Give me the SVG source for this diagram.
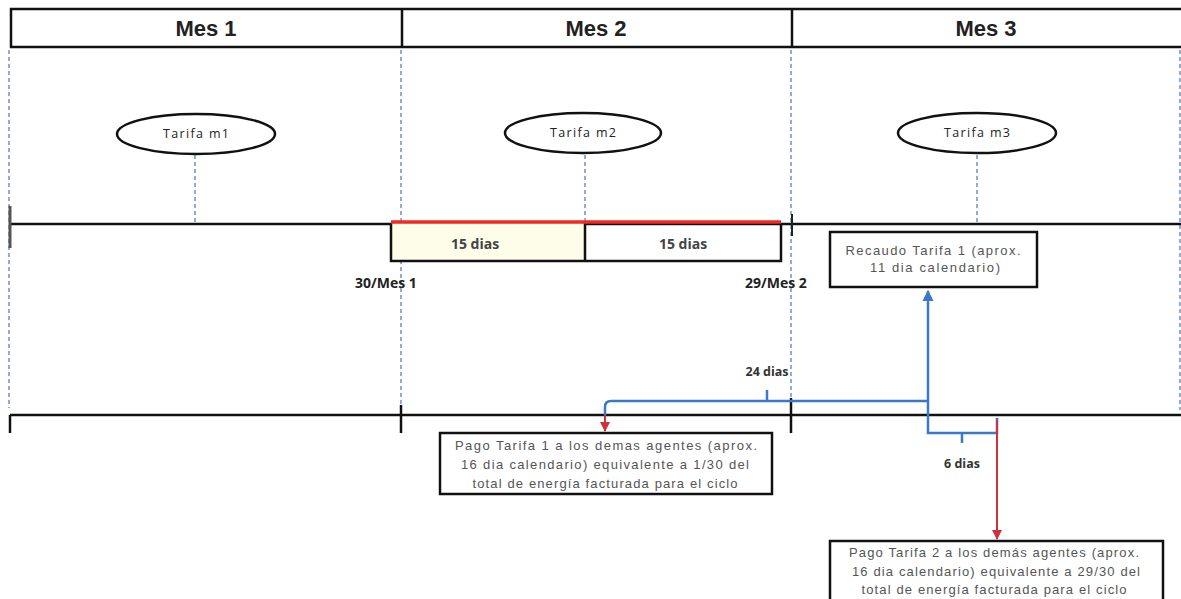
<svg xmlns="http://www.w3.org/2000/svg" width="1181" height="599" viewBox="0 0 1181 599">
<defs>
<style>
.hdr{font-family:"Liberation Sans",Arial,sans-serif;font-size:22px;font-weight:bold;fill:#222;text-anchor:middle}
.ell{font-family:"Open Sans","DejaVu Sans",sans-serif;font-size:12.5px;fill:#222;text-anchor:middle}
.dias{font-family:"Open Sans","DejaVu Sans",sans-serif;font-size:14px;font-weight:bold;fill:#444;text-anchor:middle}
.date{font-family:"Open Sans","DejaVu Sans",sans-serif;font-size:14px;font-weight:bold;fill:#222}
.box{font-family:"Liberation Sans",Arial,sans-serif;font-size:13px;fill:#555;text-anchor:middle}
.lbl{font-family:"Open Sans","DejaVu Sans",sans-serif;font-size:12.5px;font-weight:bold;fill:#333;text-anchor:middle}
.dash{stroke:#5a7fc8;stroke-width:1.3;stroke-dasharray:4 3;fill:none}
.blk{stroke:#111;stroke-width:2.5;fill:none}
.blue{stroke:#3b78c8;stroke-width:2.5;fill:none}
.red{stroke:#d0303a;stroke-width:2;fill:none}
</style>
<marker id="ar" viewBox="0 0 10 10" refX="9" refY="5" markerWidth="5" markerHeight="5" orient="auto"><path d="M0,0L10,5L0,10z" fill="#d0303a"/></marker>
<marker id="ab" viewBox="0 0 10 10" refX="9" refY="5" markerWidth="4.5" markerHeight="4.5" orient="auto"><path d="M0,0L10,5L0,10z" fill="#3b78c8"/></marker>
</defs>
<rect width="1181" height="599" fill="#fff"/>

<g id="guides">
<line class="dash" x1="9" y1="50" x2="9" y2="408"/>
<line class="dash" x1="401" y1="50" x2="401" y2="410"/>
<line class="dash" x1="791" y1="50" x2="791" y2="410"/>
<line class="dash" x1="1180" y1="50" x2="1180" y2="410"/>
<line class="dash" x1="195" y1="155" x2="195" y2="222"/>
<line class="dash" x1="585" y1="155" x2="585" y2="224"/>
<line class="dash" x1="977" y1="155" x2="977" y2="222"/>
</g>

<g id="header">
<path class="blk" d="M1181,9H11V47H1181M402,9V47M792,9V47"/>
<text class="hdr" x="206" y="36">Mes 1</text>
<text class="hdr" x="596" y="36">Mes 2</text>
<text class="hdr" x="986" y="36">Mes 3</text>
</g>

<g id="timeline-top">
<line class="blk" x1="10" y1="224" x2="1181" y2="224"/>
<line stroke="#555" stroke-width="3" x1="10" y1="206" x2="10" y2="248"/>
<line stroke="#222" stroke-width="2" x1="792" y1="214" x2="792" y2="236"/>
</g>

<g id="tarifa-m1">
<ellipse cx="196" cy="134" rx="79" ry="20" fill="#fff" stroke="#111" stroke-width="2.5"/>
<text class="ell" x="196" y="138" textLength="66" lengthAdjust="spacing">Tarifa  m1</text>
</g>
<g id="tarifa-m2">
<ellipse cx="583" cy="133" rx="78" ry="20" fill="#fff" stroke="#111" stroke-width="2.5"/>
<text class="ell" x="583" y="137" textLength="66" lengthAdjust="spacing">Tarifa  m2</text>
</g>
<g id="tarifa-m3">
<ellipse cx="977" cy="133" rx="79" ry="20" fill="#fff" stroke="#111" stroke-width="2.5"/>
<text class="ell" x="977" y="137" textLength="66" lengthAdjust="spacing">Tarifa  m3</text>
</g>

<g id="periodo">
<rect x="391" y="223" width="194" height="38" fill="#fdfde9"/>
<path class="blk" d="M391,223V261H781V223M585,223V261"/>
<line stroke="#ee2a24" stroke-width="3.5" x1="391" y1="222" x2="781" y2="222"/>
<text class="dias" x="475" y="249">15 dias</text>
<text class="dias" x="683" y="249">15 dias</text>
</g>

<g id="fechas">
<text class="date" x="355" y="288">30/Mes 1</text>
<text class="date" x="745" y="288">29/Mes 2</text>
</g>

<g id="timeline-bottom">
<line class="blk" x1="10" y1="415" x2="1181" y2="415"/>
<line stroke="#111" stroke-width="2.5" x1="10" y1="415" x2="10" y2="433"/>
<line stroke="#111" stroke-width="2.5" x1="401" y1="405" x2="401" y2="433"/>
<line stroke="#111" stroke-width="2.5" x1="791" y1="398" x2="791" y2="433"/>
</g>

<g id="recaudo">
<rect x="830" y="232" width="207" height="55" fill="#fff" stroke="#111" stroke-width="2.5"/>
<text class="box" x="933" y="255" textLength="175" lengthAdjust="spacing">Recaudo Tarifa  1 (aprox.</text>
<text class="box" x="935" y="272" textLength="130" lengthAdjust="spacing">11 dia calendario)</text>
</g>

<g id="pago1">
<rect x="440" y="433" width="332" height="61" fill="#fff" stroke="#111" stroke-width="2.5"/>
<text class="box" x="606" y="450" textLength="302" lengthAdjust="spacing">Pago Tarifa 1 a los demas agentes (aprox.</text>
<text class="box" x="605" y="469" textLength="288" lengthAdjust="spacing">16 dia calendario) equivalente a 1/30 del</text>
<text class="box" x="605" y="488" textLength="265" lengthAdjust="spacing">total de energía facturada para el ciclo</text>
</g>

<g id="pago2">
<rect x="830" y="541" width="333" height="70" fill="#fff" stroke="#111" stroke-width="2.5"/>
<text class="box" x="994" y="557" textLength="290" lengthAdjust="spacing">Pago Tarifa 2 a los demás agentes (aprox.</text>
<text class="box" x="996" y="576" textLength="288" lengthAdjust="spacing">16 dia calendario) equivalente a 29/30 del</text>
<text class="box" x="994" y="594" textLength="265" lengthAdjust="spacing">total de energía facturada para el ciclo</text>
</g>

<g id="connectors">
<path class="blue" d="M605,415V407Q605,401 611,401H928"/>
<line class="blue" x1="767" y1="401" x2="767" y2="390"/>
<line class="blue" x1="928" y1="415" x2="928" y2="291" marker-end="url(#ab)"/>
<path class="blue" d="M928,415V433H997V418"/>
<line class="blue" x1="962" y1="433" x2="962" y2="443"/>
<line class="red" x1="605" y1="415" x2="605" y2="431" marker-end="url(#ar)"/>
<line class="red" x1="997" y1="420" x2="997" y2="539" marker-end="url(#ar)"/>
<text class="lbl" x="767" y="376">24 dias</text>
<text class="lbl" x="962" y="468">6 dias</text>
</g>
</svg>
